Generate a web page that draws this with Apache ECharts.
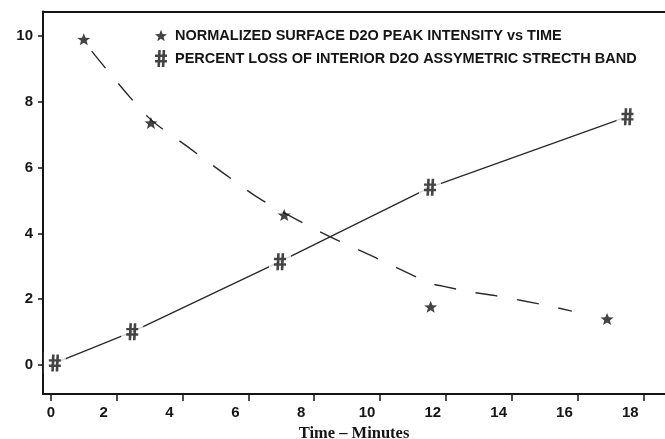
<!DOCTYPE html>
<html>
<head>
<meta charset="utf-8">
<script src="https://cdn.jsdelivr.net/npm/echarts@6/dist/echarts.min.js"></script>
<style>
html, body { margin: 0; padding: 0; background: #fff; }
#chart { width: 665px; height: 439px; }
</style>
</head>
<body>
<div id="chart"></div>
<script>
// values
var starName = 'NORMALIZED SURFACE D2O PEAK INTENSITY vs TIME';
var hashName = 'PERCENT LOSS OF INTERIOR D2O ASSYMETRIC STRECTH BAND';

var starX = [1.0, 3.04, 7.09, 11.54, 16.9];
var starY = [9.9, 7.36, 4.56, 1.77, 1.40];

// dashed trend drawn through the star points
var fitX = [1.24, 2.94, 4.12, 5.22, 6.40, 8.18, 9.85, 11.52, 11.9, 12.82, 13.5, 15.02, 15.83];
var fitY = [9.54, 7.55, 6.66, 5.85, 5.02, 4.05, 3.27, 2.49, 2.40, 2.21, 2.11, 1.82, 1.64];

var hashX = [0.12, 2.47, 6.96, 11.52, 17.52];
var hashY = [0.06, 1.01, 3.14, 5.40, 7.55];

var xTicks = [0, 2, 4, 6, 8, 10, 12, 14, 16, 18];
var yTicks = [0, 2, 4, 6, 8, 10];

var starPath = 'path://M10,0L12.6,6.6L19.5,6.9L14.1,11.3L15.9,18.1L10,14.3L4.1,18.1L5.9,11.3L0.5,6.9L7.4,6.6Z';
// '#' drawn as four bars, verticals leaning a little
var hashPath = 'path://M3.2,0L5.8,0L5.0,17L2.4,17Z' +
	'M7.6,0L10.2,0L9.4,17L6.8,17Z' +
	'M0,4.6L12,4.6L12,7.0L0,7.0Z' +
	'M0,10.0L12,10.0L12,12.4L0,12.4Z';

function pairs(xs, ys) {
	return xs.map(function (x, i) { return [x, ys[i]]; });
}

var ink = '#151515';
var sans = '"Liberation Sans", Arial, sans-serif';

var myChart = echarts.init(document.getElementById('chart'));
var option = {
	animation: false,
	backgroundColor: '#fff',
	grid: { left: 43, top: 11.5, right: 0, bottom: 45, outerBoundsMode: 'none' },
	legend: {
		orient: 'vertical',
		left: 150,
		top: 23,
		itemWidth: 12,
		itemHeight: 17,
		itemGap: 7,
		selectedMode: false,
		textStyle: { color: ink, fontFamily: sans, fontWeight: 'bold', fontSize: 14.5, padding: [0, 0, 3, 3] },
		data: [
			{ name: starName, icon: starPath },
			{ name: hashName, icon: hashPath }
		]
	},
	xAxis: [
		{
			type: 'value',
			min: -0.24,
			max: 18.66,
			name: 'Time \u2013 Minutes',
			nameLocation: 'middle',
			nameGap: 28,
			nameTextStyle: { color: ink, fontFamily: '"Liberation Serif", "Times New Roman", serif', fontWeight: 'bold', fontSize: 16.5 },
			axisLine: { onZero: false, lineStyle: { color: ink, width: 2 } },
			axisTick: { customValues: xTicks, length: 7, lineStyle: { color: ink, width: 1.5 } },
			axisLabel: {
				customValues: xTicks,
				margin: 11,
				color: ink,
				fontFamily: sans,
				fontWeight: 'bold',
				fontSize: 15,
				// the printed labels sit a little left of their ticks, except 0
				formatter: function (v) { return v === 0 ? '{z|0}' : '{n|' + v + '}'; },
				rich: {
					z: { fontFamily: sans, fontWeight: 'bold', fontSize: 15, color: ink },
					n: { fontFamily: sans, fontWeight: 'bold', fontSize: 15, color: ink, padding: [0, 26, 0, 0] }
				}
			},
			splitLine: { show: false }
		},
		{
			// top frame line
			type: 'value',
			position: 'top',
			min: -0.24,
			max: 18.66,
			axisLine: { show: true, onZero: false, lineStyle: { color: ink, width: 2 } },
			axisTick: { show: false },
			axisLabel: { show: false },
			splitLine: { show: false }
		}
	],
	yAxis: {
		type: 'value',
		min: -0.88,
		max: 10.745,
		axisLine: { show: true, onZero: false, lineStyle: { color: ink, width: 2 } },
		axisTick: { show: true, customValues: yTicks, length: 5, lineStyle: { color: ink, width: 1.5 } },
		axisLabel: { customValues: yTicks, margin: 10, color: ink, fontFamily: sans, fontWeight: 'bold', fontSize: 15 },
		splitLine: { show: false }
	},
	series: [
		{
			name: 'fit',
			type: 'line',
			data: pairs(fitX, fitY),
			showSymbol: false,
			smooth: 0.3,
			silent: true,
			lineStyle: { color: '#2a2a2a', width: 1.4, type: [22, 20] },
			z: 2
		},
		{
			name: 'hash-line',
			type: 'line',
			data: pairs(hashX, hashY),
			showSymbol: false,
			silent: true,
			lineStyle: { color: '#2a2a2a', width: 1.4 },
			z: 2
		},
		{
			// white patch so the solid line breaks around each mark
			name: 'mask',
			type: 'scatter',
			data: pairs(hashX, hashY),
			symbol: 'rect',
			symbolSize: [22, 22],
			itemStyle: { color: '#fff' },
			silent: true,
			z: 3
		},
		{
			name: starName,
			type: 'scatter',
			data: pairs(starX, starY),
			symbol: starPath,
			symbolSize: [13, 12],
			itemStyle: { color: ink },
			z: 4
		},
		{
			name: hashName,
			type: 'scatter',
			data: pairs(hashX, hashY),
			symbol: hashPath,
			symbolSize: [12, 17],
			itemStyle: { color: ink },
			z: 4
		}
	]
};
myChart.setOption(option);
</script>
</body>
</html>
